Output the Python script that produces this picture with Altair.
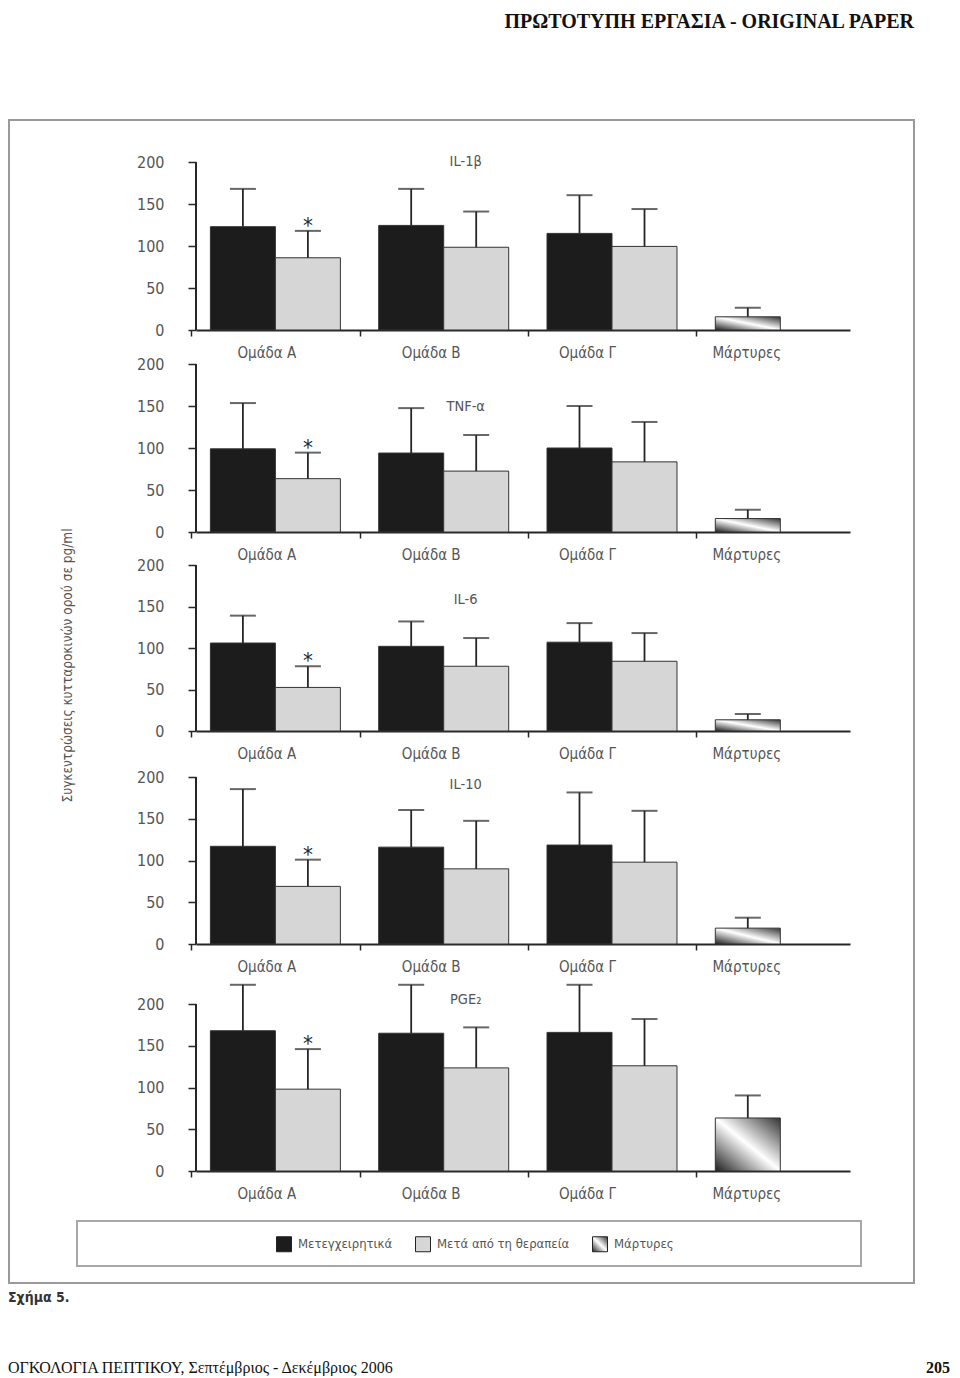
import altair as alt
import pandas as pd

# ---------------- data ----------------
PANELS = ["IL-1β", "TNF-α", "IL-6", "IL-10", "PGE₂"]
GROUPS = ["Ομάδα Α", "Ομάδα Β", "Ομάδα Γ", "Μάρτυρες"]
SERIES = ["Μετεγχειρητικά", "Μετά από τη θεραπεία", "Μάρτυρες"]

# per panel, for Ομάδα Α, Β, Γ
PRE_MEAN = [[123, 124.5, 115], [99, 94, 100], [106, 102, 107], [117, 116, 118.5], [168, 165, 166]]
PRE_UPPER = [[168, 168, 160.5], [153.5, 147.5, 150], [139, 132, 130], [185.5, 160.5, 181.5], [223, 223, 223]]
POST_MEAN = [[86, 98.5, 99.5], [63.5, 72.5, 83.5], [52.5, 78, 84], [69, 90, 98], [98, 123.5, 126]]
POST_UPPER = [[118, 141, 144], [94.5, 115.5, 131], [78, 112, 118], [101, 147.5, 159.5], [146, 172, 182]]
CTRL_MEAN = [15.7, 16, 13.5, 19, 63.5]
CTRL_UPPER = [26.5, 26.5, 20.5, 31.5, 90.5]
STAR_GROUP = "Ομάδα Α"
Y_TICKS = [0, 25, 50, 75, 100, 125, 150, 175, 200]

rows = []
for i, p in enumerate(PANELS):
    for j, g in enumerate(GROUPS[:3]):
        rows.append(dict(panel=p, group=g, series=SERIES[0], slot="1",
                         value=PRE_MEAN[i][j], upper=PRE_UPPER[i][j], star=False))
        rows.append(dict(panel=p, group=g, series=SERIES[1], slot="2",
                         value=POST_MEAN[i][j], upper=POST_UPPER[i][j], star=(g == STAR_GROUP)))
    rows.append(dict(panel=p, group=GROUPS[3], series=SERIES[2], slot="1",
                     value=CTRL_MEAN[i], upper=CTRL_UPPER[i], star=False))
df = pd.DataFrame(rows)

# ---------------- layout / style ----------------
FONT = "DejaVu Sans Condensed, Liberation Sans Narrow, Roboto, sans-serif"
SERIF = "Liberation Serif, DejaVu Serif, serif"
TXT = "#555555"
INK = "#262626"
W = 654
H200 = [168, 168, 166, 167, 167]
TOPM = [0, 1, 0, 13, 27]
GAP = 33
TITLE_LEVEL = [200, 149, 158, 191, 205]
STEP = 168.3
TICK_OFF = -STEP / 2
LABEL_SHIFT = {"Ομάδα Α": -9, "Ομάδα Β": -13, "Ομάδα Γ": -25, "Μάρτυρες": -34}
LEFT = -188

GRAD = ("{gradient: 'linear', x1: 0, y1: 1, x2: 1, y2: 0, stops: ["
        "{offset: 0, color: '#1e1e1e'}, {offset: 0.5, color: '#ffffff'}, {offset: 1, color: '#333333'}]}")

color_scale = alt.Scale(domain=SERIES, range=["#1c1c1c", "#d6d6d6", {"expr": GRAD}])
legend = alt.Legend(title=None, orient="none", legendX=80, legendY=1074, direction="horizontal",
                    symbolType="square", symbolSize=225, symbolStrokeColor="#222",
                    symbolStrokeWidth=1, labelFont=FONT, labelFontSize=13, labelColor=TXT,
                    labelOffset=6, columnPadding=20, padding=0, labelLimit=400)

label_offset = {
    "condition": [{"test": f"datum.value === '{g}'", "value": LABEL_SHIFT[g] - TICK_OFF}
                  for g in GROUPS[:3]],
    "value": LABEL_SHIFT[GROUPS[3]] - TICK_OFF,
}

one = pd.DataFrame({"k": [0]})


def panel(i):
    d = df[df.panel == PANELS[i]]
    H = H200[i] + TOPM[i]
    ymax = 200 * H / H200[i]
    x = alt.X("group:N", sort=GROUPS,
              scale=alt.Scale(domain=GROUPS, paddingInner=0.2276, paddingOuter=0.0567, align=0.754),
              axis=alt.Axis(title=None, labelFont=FONT, labelFontSize=15, labelColor=TXT,
                            labelPadding=9, labelAngle=0, tickSize=6, tickColor=INK, tickWidth=1.5,
                            tickOffset=TICK_OFF, labelOffset=label_offset,
                            domainColor=INK, domainWidth=2))
    yaxis_kw = dict(values=Y_TICKS, labelExpr="datum.value % 50 === 0 ? datum.label : ''",
                    domain=False, tickSize=8, tickColor=INK, tickWidth=1.5, labelFont=FONT,
                    labelFontSize=16, labelColor=TXT, labelPadding=24, grid=False)
    if i == 2:
        yaxis_kw.update(title="Συγκεντρώσεις κυτταροκινών ορού σε pg/ml", titleFont=FONT,
                        titleFontSize=13.5, titleColor=TXT, titleFontWeight="normal",
                        titleX=68 - 197, titleY=665 - 565, titleAngle=-90, titleAlign="center",
                        titleBaseline="middle")
    else:
        yaxis_kw.update(title=None)
    y = alt.Y("value:Q", scale=alt.Scale(domain=[0, ymax], nice=False, zero=True),
              axis=alt.Axis(**yaxis_kw))
    xo = alt.XOffset("slot:N", scale=alt.Scale(domain=["1", "2"], paddingInner=0, paddingOuter=0))
    base = alt.Chart(d)
    bars = base.mark_bar(stroke="#333333", strokeWidth=1).encode(
        x=x, xOffset=xo, y=y,
        color=alt.Color("series:N", scale=color_scale, legend=legend))
    err = base.mark_rule(color=INK, strokeWidth=1.8).encode(x=x, xOffset=xo, y="upper:Q", y2="value:Q")
    cap = base.mark_tick(color=INK, thickness=2, size=26).encode(x=x, xOffset=xo, y="upper:Q")
    star = base.transform_filter("datum.star").mark_text(
        text="*", font=FONT, fontSize=22, color=INK, baseline="alphabetic", dy=2).encode(
        x=x, xOffset=xo, y="upper:Q")
    yline = alt.Chart(one).mark_rule(color=INK, strokeWidth=2).encode(
        x=alt.value(0), y=alt.datum(0), y2=alt.datum(200))
    title = alt.Chart(one).mark_text(text=PANELS[i], font=FONT, fontSize=14.5, color=TXT,
                                     baseline="middle", dx=22).encode(
        x=alt.datum(GROUPS[1]), y=alt.datum(TITLE_LEVEL[i]))
    layers = [bars, err, cap, star, yline, title]
    if i == 0:
        header = alt.Chart(one).mark_text(
            text="ΠΡΩΤΟΤΥΠΗ ΕΡΓΑΣΙΑ  -  ORIGINAL PAPER", font=SERIF, fontSize=20,
            fontWeight="bold", color="#111", align="right", baseline="top").encode(
            x=alt.value(718), y=alt.value(-150))
        layers.append(header)
    if i == 4:
        frame = alt.Chart(one).mark_rect(fillOpacity=0, stroke="#9a9a9a", strokeWidth=2).encode(
            x=alt.value(LEFT + 1), x2=alt.value(718), y=alt.value(-857), y2=alt.value(306))
        lbox = alt.Chart(one).mark_rect(fillOpacity=0, stroke="#a8a8a8", strokeWidth=2).encode(
            x=alt.value(-119), x2=alt.value(665), y=alt.value(244), y2=alt.value(289))
        fig = alt.Chart(one).mark_text(text="Σχήμα 5.", font=FONT, fontSize=14, fontWeight="bold",
                                       color="#333", align="left", baseline="middle").encode(
            x=alt.value(LEFT), y=alt.value(321))
        foot = alt.Chart(one).mark_text(
            text="ΟΓΚΟΛΟΓΙΑ ΠΕΠΤΙΚΟΥ, Σεπτέμβριος - Δεκέμβριος 2006", font=SERIF, fontSize=16,
            color="#111", align="left", baseline="middle").encode(
            x=alt.value(LEFT), y=alt.value(391))
        page = alt.Chart(one).mark_text(text="205", font=SERIF, fontSize=16, fontWeight="bold",
                                        color="#111", align="right", baseline="middle").encode(
            x=alt.value(754), y=alt.value(391))
        layers += [frame, lbox, fig, foot, page]
    return alt.layer(*layers).properties(width=W, height=H)


chart = alt.vconcat(*[panel(i) for i in range(5)], spacing=GAP, bounds="flush").resolve_scale(
    color="shared", x="independent", y="independent").properties(
    padding={"left": 0, "top": 4, "right": 0, "bottom": 0}).configure(
    background="white").configure_view(stroke=None)

chart.save("out.html", embed_options={"renderer": "svg", "actions": False})
